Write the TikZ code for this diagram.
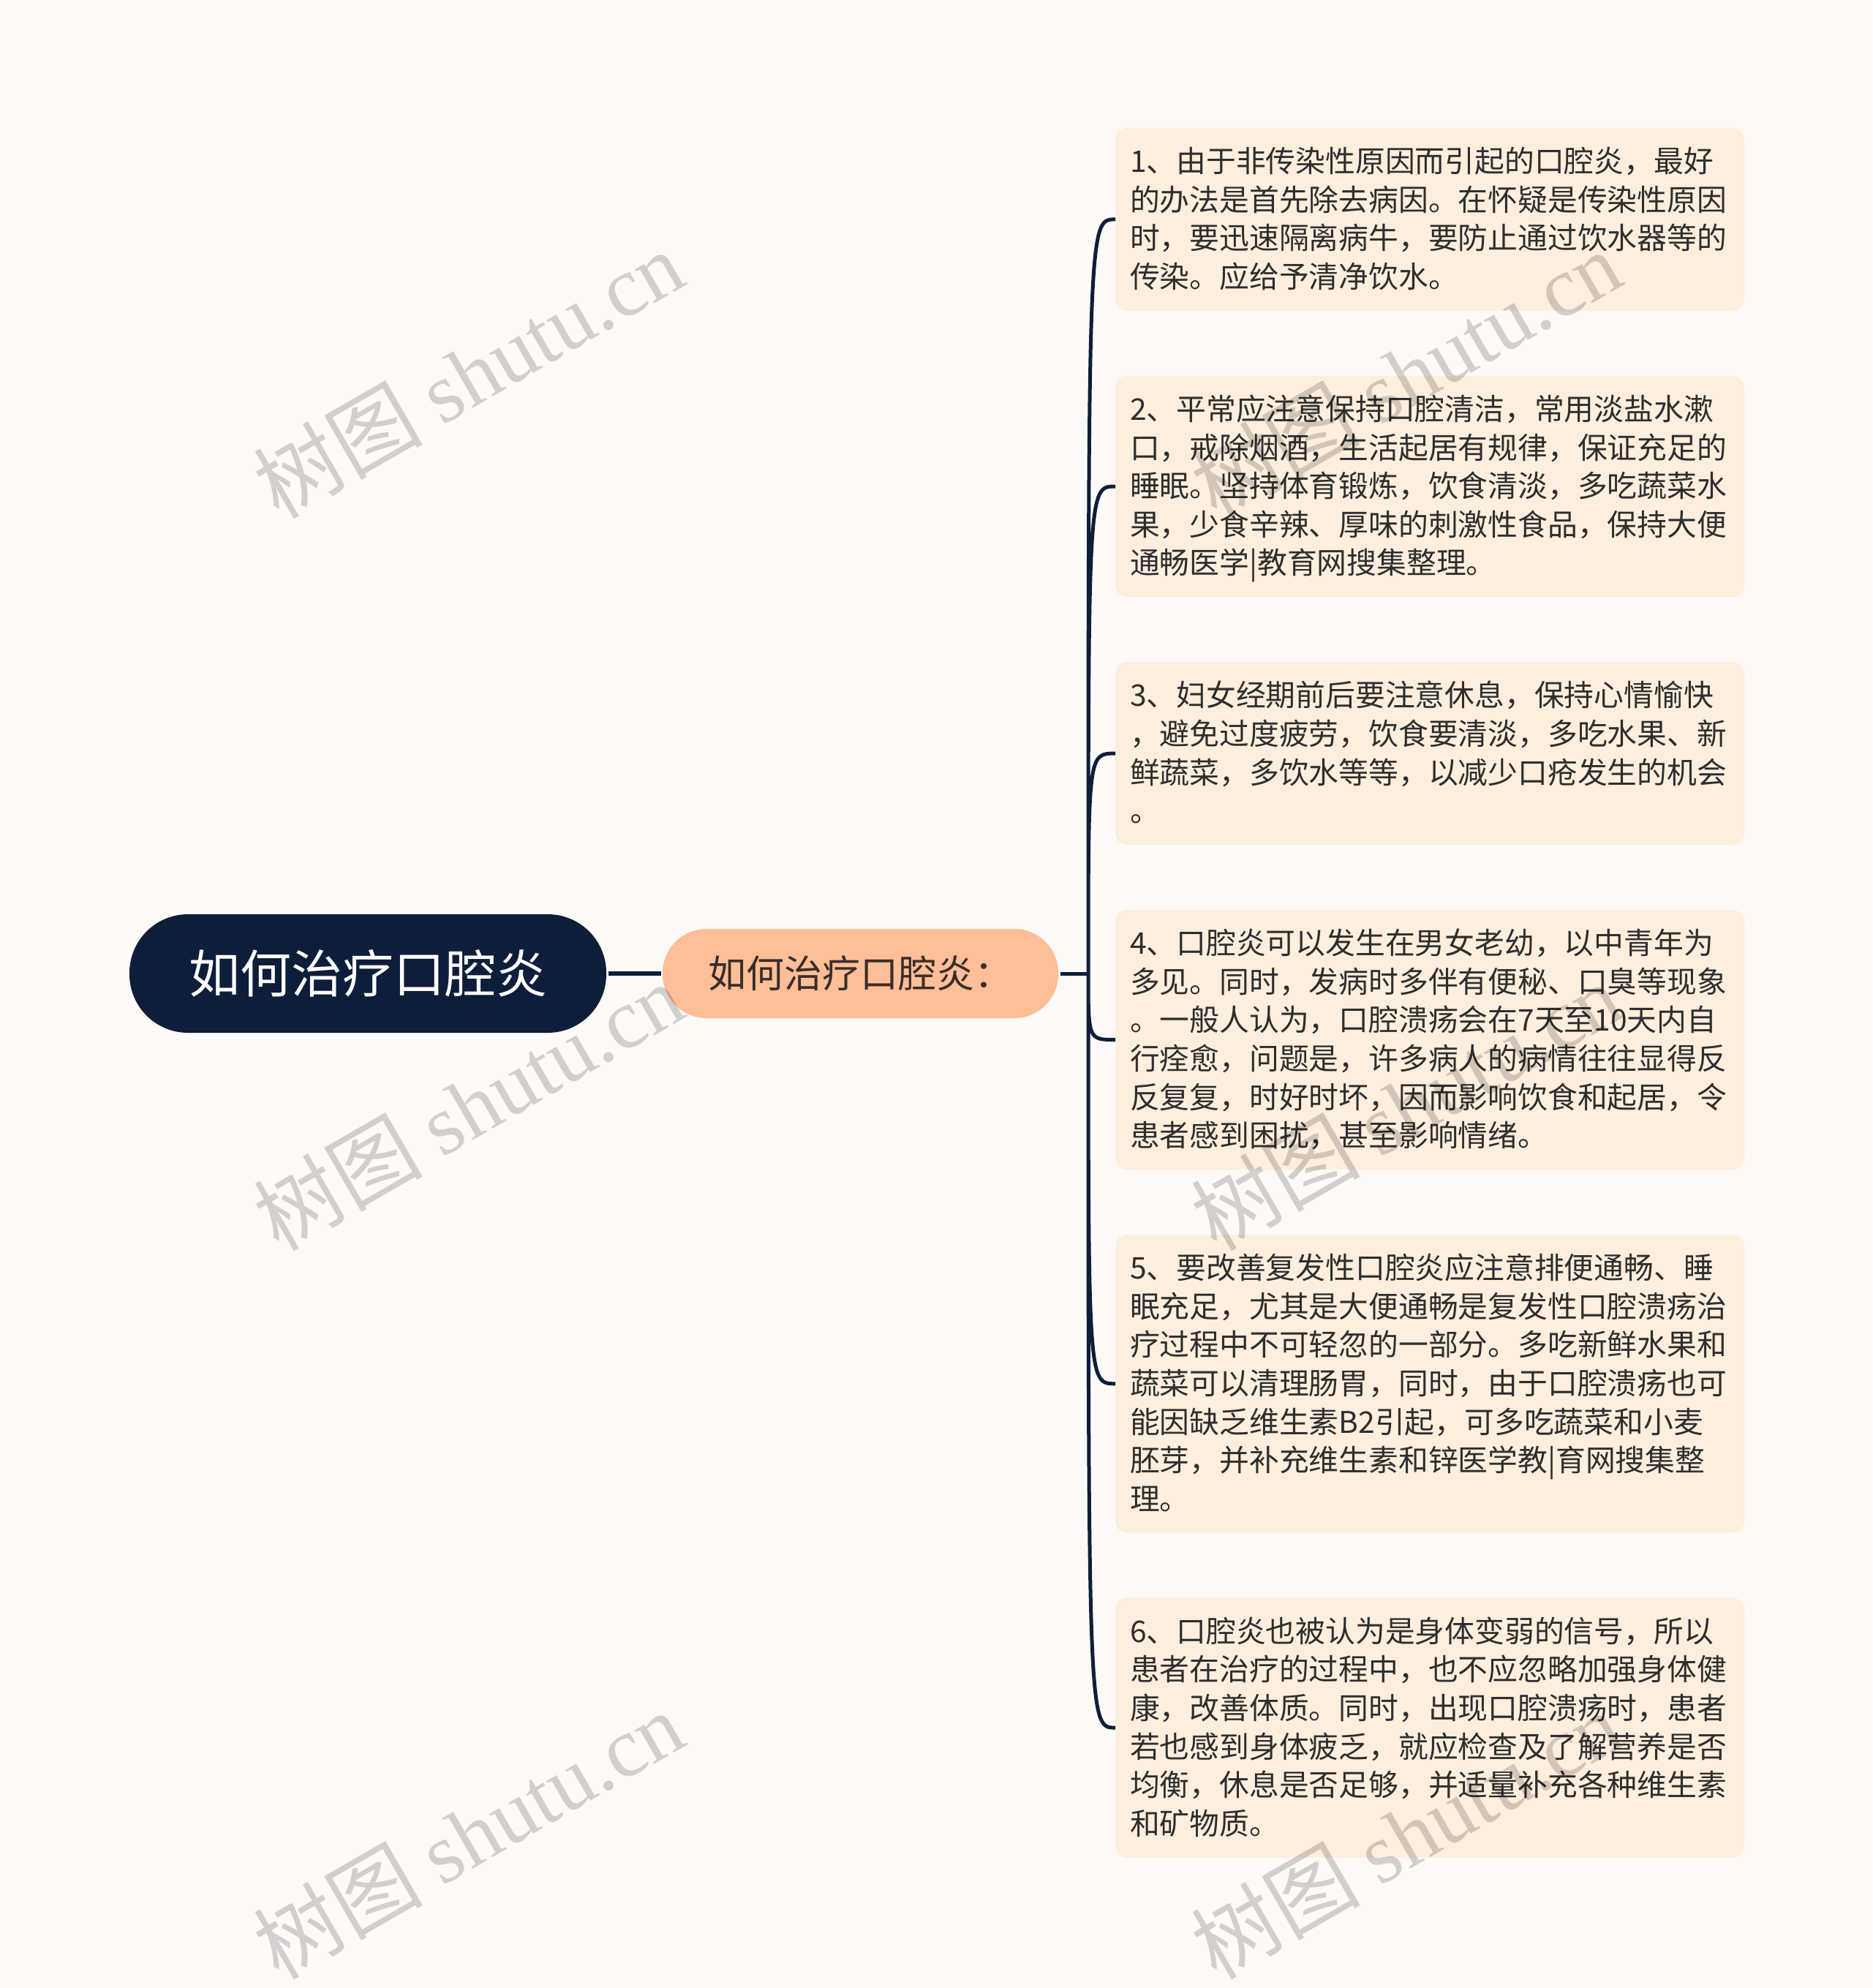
\documentclass[tikz,border=0pt]{standalone}
\usepackage{fontspec}
\setmainfont{Noto Sans CJK SC}
\newfontfamily\wmserif{Liberation Serif}
\usetikzlibrary{positioning}
\definecolor{navy}{HTML}{0E1E3A}
\definecolor{peach}{HTML}{FDBE98}
\definecolor{cream}{HTML}{FDEEDD}
\definecolor{paper}{HTML}{FEFAF8}
\definecolor{ink}{HTML}{2E2E2E}
\definecolor{subink}{HTML}{3A2E28}
\newcommand{\leafstrut}{\rule[-5.8pt]{0pt}{26.3pt}}

\begin{document}
\begin{tikzpicture}[
    node distance=44.5pt,
    line width=2.5pt,
    leaf/.style={fill=cream, rounded corners=8pt, text width=410pt, outer sep=0pt,
        inner xsep=10pt, inner ysep=9.85pt, align=left, text=ink,
        font=\fontsize{20.4}{26.3}\selectfont,
        execute at begin node=\leafstrut, execute at end node=\leafstrut},
    wm/.style={rotate=30, text=black, opacity=0.17,
        font=\fontsize{58}{62}\selectfont}]
    \fill[paper] (0,0) rectangle (1280pt,-1359pt);
    \useasboundingbox (0,0) rectangle (1280pt,-1359pt);

    \node[fill=navy, rounded corners=40pt, minimum width=326pt, minimum height=81pt,
        text=white, font=\fontsize{35}{42}\selectfont] (root) at (251.5pt,-665.5pt) {如何治疗口腔炎};
    \node[fill=peach, rounded corners=30pt, minimum width=270.5pt, minimum height=61pt,
        text=subink, font=\fontsize{26}{30}\selectfont] (sub) at (588.25pt,-665.5pt) {如何治疗口腔炎：};

    \node[leaf, anchor=north west] (t1) at (762.5pt,-87.5pt) {1、由于非传染性原因而引起的口腔炎，最好\\
        的办法是首先除去病因。在怀疑是传染性原因\\
        时，要迅速隔离病牛，要防止通过饮水器等的\\
        传染。应给予清净饮水。};
    \node[leaf, below=of t1] (t2) {2、平常应注意保持口腔清洁，常用淡盐水漱\\
        口，戒除烟酒，生活起居有规律，保证充足的\\
        睡眠。坚持体育锻炼，饮食清淡，多吃蔬菜水\\
        果，少食辛辣、厚味的刺激性食品，保持大便\\
        通畅医学|教育网搜集整理。};
    \node[leaf, below=of t2] (t3) {3、妇女经期前后要注意休息，保持心情愉快\\
        ，避免过度疲劳，饮食要清淡，多吃水果、新\\
        鲜蔬菜，多饮水等等，以减少口疮发生的机会\\
        。};
    \node[leaf, below=of t3] (t4) {4、口腔炎可以发生在男女老幼，以中青年为\\
        多见。同时，发病时多伴有便秘、口臭等现象\\
        。一般人认为，口腔溃疡会在7天至10天内自\\
        行痊愈，问题是，许多病人的病情往往显得反\\
        反复复，时好时坏，因而影响饮食和起居，令\\
        患者感到困扰，甚至影响情绪。};
    \node[leaf, below=of t4] (t5) {5、要改善复发性口腔炎应注意排便通畅、睡\\
        眠充足，尤其是大便通畅是复发性口腔溃疡治\\
        疗过程中不可轻忽的一部分。多吃新鲜水果和\\
        蔬菜可以清理肠胃，同时，由于口腔溃疡也可\\
        能因缺乏维生素B2引起，可多吃蔬菜和小麦\\
        胚芽，并补充维生素和锌医学教|育网搜集整\\
        理。};
    \node[leaf, below=of t5] (t6) {6、口腔炎也被认为是身体变弱的信号，所以\\
        患者在治疗的过程中，也不应忽略加强身体健\\
        康，改善体质。同时，出现口腔溃疡时，患者\\
        若也感到身体疲乏，就应检查及了解营养是否\\
        均衡，休息是否足够，并适量补充各种维生素\\
        和矿物质。};

    % branches
    \coordinate (fork) at (744pt,-665.5pt);
    \draw[navy, line width=3pt] (root) -- (sub);
    \draw[navy] (sub.east) -- (fork);
    \draw[navy] (fork) .. controls (fork |- t1.west) .. (t1.west)
        (fork) .. controls (fork |- t2.west) .. (t2.west)
        (fork) .. controls (fork |- t3.west) .. (t3.west)
        (fork) .. controls (fork |- t4.west) .. (t4.west)
        (fork) .. controls (fork |- t5.west) .. (t5.west)
        (fork) .. controls (fork |- t6.west) .. (t6.west);

    % watermark
    \node[wm] (wm1) at (320pt,-255.5pt) {树图 {\wmserif shutu.cn}};
    \node[wm] (wm2) at (320pt,-756pt) {树图 {\wmserif shutu.cn}};
    \node[wm] (wm3) at (320pt,-1254pt) {树图 {\wmserif shutu.cn}};
    \node[wm] (wm4) at (961pt,-255.5pt) {树图 {\wmserif shutu.cn}};
    \node[wm] (wm5) at (961pt,-756pt) {树图 {\wmserif shutu.cn}};
    \node[wm] (wm6) at (961pt,-1254pt) {树图 {\wmserif shutu.cn}};
\end{tikzpicture}
\end{document}
